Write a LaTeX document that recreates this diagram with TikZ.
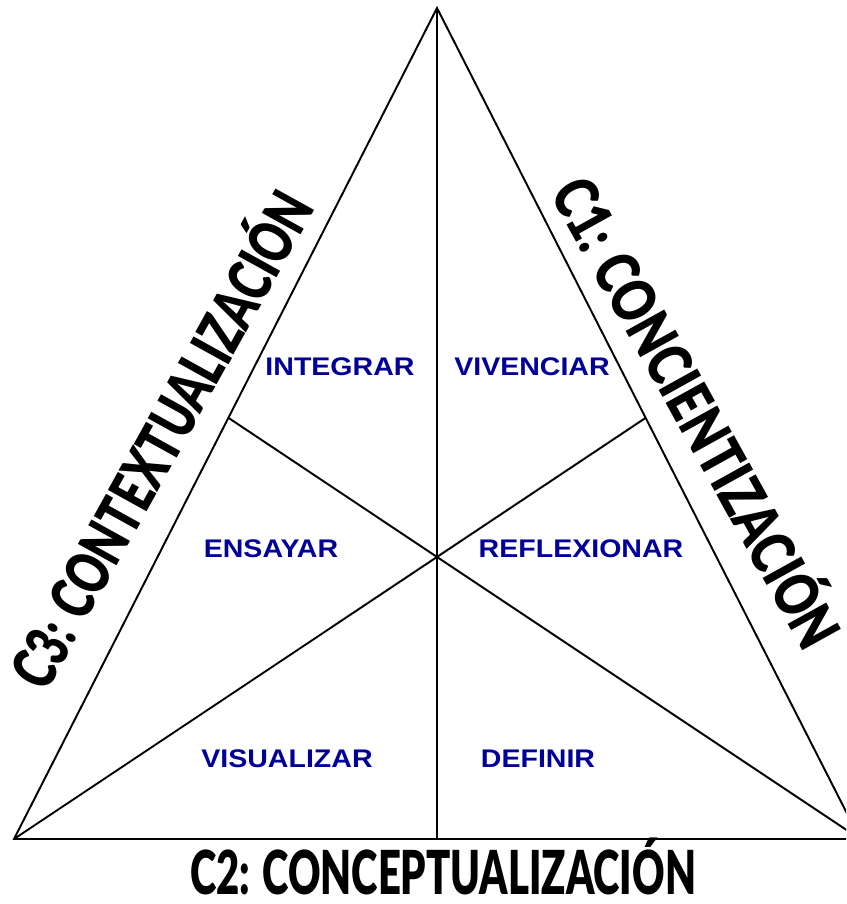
\documentclass[tikz,border=0pt]{standalone}
\usepackage{fontspec}
\setmainfont{Liberation Sans}
\IfFontExistsTF{Lato Black}{\newfontfamily\heavyfont{Lato Black}}{%
  \IfFontExistsTF{Fira Sans Heavy}{\newfontfamily\heavyfont{Fira Sans Heavy}}{%
    \newfontfamily\heavyfont{Liberation Sans Bold}}}
\newfontfamily\stagefont{Liberation Sans Bold}
\usepackage{graphicx}
\usetikzlibrary{positioning}
\definecolor{stageBlue}{HTML}{000099}
\tikzset{
  edge/.style={draw=black, line width=1.1pt},
  stage/.style={font=\stagefont\fontsize{14.5}{16}\selectfont, text=stageBlue,
    inner sep=0pt, text height=0.366cm, text depth=0pt},
  phase/.style={font=\heavyfont\fontsize{34.5}{40}\selectfont,
    inner sep=0pt, text height=0.87cm, text depth=0pt}
}
\newcommand{\widestage}[1]{\scalebox{1.12}[1]{#1}}
\newcommand{\narrowphase}[2][0.66]{\scalebox{#1}[1]{#2}}

\begin{document}
\begin{tikzpicture}
\useasboundingbox (0,0) rectangle (16.92,18.08);
\clip (0,0) rectangle (16.92,18.08);
% corners of the triangle and the centre
\coordinate (top) at (8.74,17.92);
\coordinate (left) at (0.28,1.30);
\coordinate (right) at (17.20,1.30);
\coordinate (ctr) at (8.74,6.94);
\coordinate (base) at (8.74,1.30);
\coordinate (sideL) at (intersection of right--ctr and top--left);
\coordinate (sideR) at (intersection of left--ctr and top--right);
\draw[edge] (top) -- (left) -- (right) -- cycle;
\draw[edge] (top) -- (base);
\draw[edge] (left) -- (sideR);
\draw[edge] (right) -- (sideL);
% the six stages
\node[stage] (integrar) at (6.80,10.76) {\widestage{INTEGRAR}};
\node[stage] (vivenciar) at (10.64,10.76) {\widestage{VIVENCIAR}};
\node[stage] (ensayar) at (5.42,7.12) {\widestage{ENSAYAR}};
\node[stage] (reflexionar) at (11.62,7.12) {\widestage{REFLEXIONAR}};
\node[stage] (visualizar) at (5.74,2.92) {\widestage{VISUALIZAR}};
\node[stage] (definir) at (10.76,2.92) {\widestage{DEFINIR}};
% the three phases
\node[phase] (c2) at (8.86,0.63) {\narrowphase{C2: CONCEPTUALIZACIÓN}};
\node[phase, rotate=61] (c3) at (3.24,9.28) {\narrowphase[0.724]{C3: CONTEXTUALIZACIÓN}};
\node[phase, rotate=-61] (c1) at (13.92,9.82) {\narrowphase[0.78]{C1: CONCIENTIZACIÓN}};
\end{tikzpicture}
\end{document}
